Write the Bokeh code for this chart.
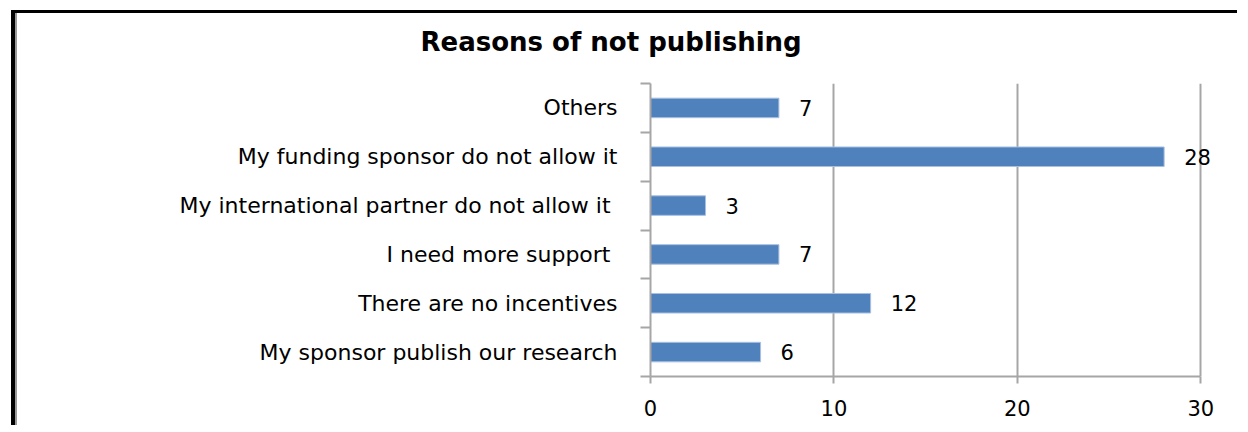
from bokeh.plotting import figure
from bokeh.models import Range1d, FixedTicker, ColumnDataSource, LabelSet, Title
from bokeh.core.properties import value
from bokeh.embed import file_html
from bokeh.resources import INLINE

title_text = "Reasons  of not publishing"
categories = [
    "Others",
    "My funding sponsor do not allow it",
    "My international partner  do not allow it",
    "I need more support ",
    "There are no incentives",
    "My sponsor publish our research",
]
counts = [7, 28, 3, 7, 12, 6]
x_ticks = [0, 10, 20, 30]

n = len(categories)
ypos = [n - 1 - i for i in range(n)]
FONT = "DejaVu Sans"
GRID = "#a6a6a6"
BAR = "#4f81bd"

p = figure(width=1226, height=415, output_backend="svg", toolbar_location=None, title=None,
           x_range=Range1d(0, 32), y_range=Range1d(-0.5, n - 0.5),
           min_border_left=633, min_border_right=6, min_border_top=70, min_border_bottom=52)
p.styles = {"margin-left": "11px", "margin-top": "10px", "padding-left": "2px",
            "border-left": "4px solid black", "border-top": "3px solid black",
            "box-shadow": "inset 2px 0 0 #9a9a9a"}
p.outline_line_color = None
p.background_fill_color = "white"
p.border_fill_color = "white"

# spacer between title and plot area, then the title itself
p.add_layout(Title(text=" ", text_font_size="2px", standoff=18), "above")
p.add_layout(Title(text=title_text, align="left", offset=-230, standoff=10,
                   text_font=FONT, text_font_size="26px", text_font_style="bold",
                   text_color="black"), "above")

src = ColumnDataSource(dict(y=ypos, v=counts, lab=[str(c) for c in counts]))
p.hbar(y="y", right="v", left=0, height=0.4, source=src, fill_color=BAR,
       line_color="#a9c0e0", line_width=1)
p.add_layout(LabelSet(x="v", y="y", text="lab", source=src, x_offset=20,
                      text_baseline="middle", text_align="left", text_font=value(FONT),
                      text_font_size="21px", text_color="black"))

# x axis
xa = p.xaxis[0]
xa.ticker = FixedTicker(ticks=x_ticks)
xa.bounds = (0, 30)
xa.axis_line_color = GRID
xa.axis_line_width = 2
xa.major_tick_line_color = GRID
xa.major_tick_line_width = 2
xa.major_tick_in = 0
xa.major_tick_out = 7
xa.minor_tick_line_color = None
xa.major_label_standoff = 16
xa.major_label_text_font = FONT
xa.major_label_text_font_size = "21px"
xa.major_label_text_color = "black"

# y axis
ya = p.yaxis[0]
ya.ticker = FixedTicker(ticks=ypos, minor_ticks=[k - 0.5 for k in range(n + 1)])
ya.major_label_overrides = {y: c for y, c in zip(ypos, categories)}
ya.axis_line_color = GRID
ya.axis_line_width = 2
ya.major_tick_line_color = None
ya.major_tick_in = 0
ya.major_tick_out = 0
ya.minor_tick_line_color = GRID
ya.minor_tick_line_width = 2
ya.minor_tick_in = 0
ya.minor_tick_out = 10
ya.major_label_standoff = 23
ya.major_label_text_font = FONT
ya.major_label_text_font_size = "22px"
ya.major_label_text_color = "black"

p.ygrid.grid_line_color = None
p.xgrid.grid_line_color = GRID
p.xgrid.grid_line_width = 2
p.xgrid.bounds = (0, 30)

open("out.html", "w").write(file_html(p, INLINE))
